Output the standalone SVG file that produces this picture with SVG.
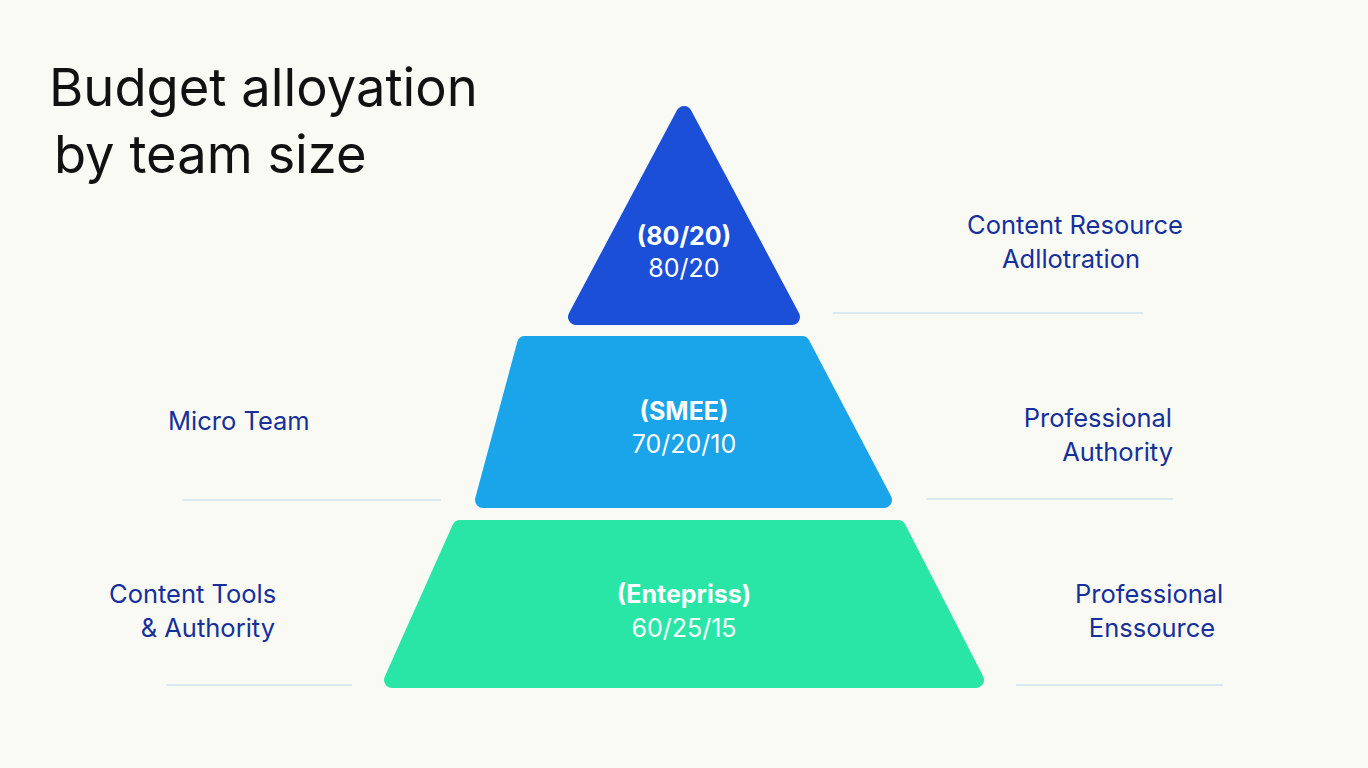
<svg xmlns="http://www.w3.org/2000/svg" width="1368" height="768" viewBox="0 0 1368 768">
<style>
.title{font-family:Inter,"Liberation Sans",sans-serif;font-size:52.5px;fill:#111;}
.lbl{font-family:Inter,"Liberation Sans",sans-serif;font-size:25.5px;fill:#15309a;}
.in{font-family:Inter,"Liberation Sans",sans-serif;font-size:25px;fill:#fff;text-anchor:middle;}
.b{font-weight:700;}
.shape{stroke-width:16;stroke-linejoin:round;}
.conn line{stroke:#cfe2f2;stroke-width:1.5;}
</style>
<rect width="1368" height="768" fill="#fafaf5"/>
<g id="title">
<text class="title" x="49" y="106">Budget alloyation</text>
<text class="title" x="54" y="173">by team size</text>
</g>
<g class="conn" id="connectors">
<line x1="833" y1="313" x2="1143" y2="313"/>
<line x1="926" y1="499" x2="1173" y2="499"/>
<line x1="182" y1="500" x2="441" y2="500"/>
<line x1="166" y1="685" x2="352" y2="685"/>
<line x1="1016" y1="685" x2="1223" y2="685"/>
</g>
<g id="top">
<polygon class="shape" points="684,114 576,317 792,317" fill="#1b4fd8" stroke="#1b4fd8"/>
<text class="in b" x="684" y="245">(80/20)</text>
<text class="in" x="684" y="277">80/20</text>
</g>
<g id="middle">
<polygon class="shape" points="525,344 802,344 884,500 483,500" fill="#1aa4e9" stroke="#1aa4e9"/>
<text class="in b" x="684" y="420">(SMEE)</text>
<text class="in" x="684" y="453">70/20/10</text>
</g>
<g id="bottom">
<polygon class="shape" points="460,528 898,528 976,680 392,680" fill="#29e6a7" stroke="#29e6a7"/>
<text class="in b" x="684" y="603">(Entepriss)</text>
<text class="in" x="684" y="637">60/25/15</text>
</g>
<g id="label-content-resource">
<text class="lbl" x="1075" y="234" text-anchor="middle">Content Resource</text>
<text class="lbl" x="1071" y="268" text-anchor="middle">Adllotration</text>
</g>
<g id="label-professional-authority">
<text class="lbl" x="1172" y="427" text-anchor="end">Professional</text>
<text class="lbl" x="1173" y="461" text-anchor="end">Authority</text>
</g>
<g id="label-micro-team">
<text class="lbl" x="168" y="430">Micro Team</text>
</g>
<g id="label-content-tools">
<text class="lbl" x="109" y="603">Content Tools</text>
<text class="lbl" x="275" y="637" text-anchor="end">&amp; Authority</text>
</g>
<g id="label-professional-enssource">
<text class="lbl" x="1075" y="603">Professional</text>
<text class="lbl" x="1152" y="637" text-anchor="middle">Enssource</text>
</g>
</svg>
